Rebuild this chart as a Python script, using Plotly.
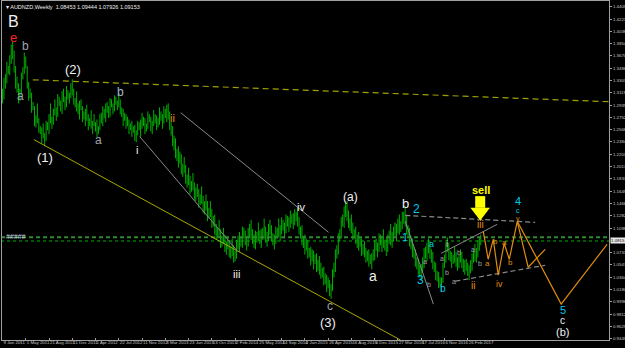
import plotly.graph_objects as go

# ---------------- DATA ----------------
# weekly bars (AUDNZD, weekly) starting 9 Jan 2011; one value per week
weekly_low = [
    1.296, 1.302, 1.318, 1.326, 1.340, 1.338, 1.355, 1.362, 1.342, 1.318,
    1.312, 1.296, 1.300, 1.310, 1.332, 1.340, 1.348, 1.318, 1.300, 1.304,
    1.282, 1.286, 1.262, 1.260, 1.266, 1.252, 1.250, 1.236, 1.244, 1.232,
    1.240, 1.256, 1.250, 1.266, 1.258, 1.264, 1.278, 1.270, 1.276, 1.292,
    1.284, 1.280, 1.298, 1.286, 1.290, 1.302, 1.296, 1.304, 1.308, 1.294,
    1.290, 1.284, 1.280, 1.272, 1.286, 1.268, 1.272, 1.262, 1.270, 1.256,
    1.262, 1.258, 1.250, 1.262, 1.254, 1.246, 1.250, 1.256, 1.266, 1.262,
    1.274, 1.268, 1.282, 1.274, 1.276, 1.290, 1.280, 1.284, 1.294, 1.286,
    1.290, 1.280, 1.276, 1.262, 1.270, 1.258, 1.262, 1.250, 1.256, 1.246,
    1.252, 1.240, 1.238, 1.248, 1.256, 1.246, 1.258, 1.262, 1.250, 1.254,
    1.258, 1.268, 1.254, 1.250, 1.262, 1.266, 1.256, 1.260, 1.264, 1.270,
    1.258, 1.266, 1.274, 1.268, 1.272, 1.256, 1.248, 1.232, 1.226, 1.214,
    1.210, 1.200, 1.206, 1.190, 1.186, 1.192, 1.176, 1.170, 1.174, 1.160,
    1.164, 1.166, 1.152, 1.150, 1.156, 1.140, 1.144, 1.146, 1.132, 1.130,
    1.136, 1.120, 1.124, 1.126, 1.110, 1.112, 1.100, 1.092, 1.094, 1.096,
    1.080, 1.082, 1.086, 1.074, 1.070, 1.078, 1.066, 1.064, 1.068, 1.058,
    1.060, 1.064, 1.078, 1.074, 1.082, 1.080, 1.094, 1.084, 1.076, 1.082,
    1.096, 1.092, 1.086, 1.080, 1.078, 1.088, 1.090, 1.086, 1.080, 1.092,
    1.094, 1.088, 1.082, 1.090, 1.100, 1.090, 1.084, 1.078, 1.086, 1.094,
    1.096, 1.090, 1.100, 1.106, 1.094, 1.102, 1.112, 1.104, 1.110, 1.116,
    1.108, 1.114, 1.120, 1.112, 1.100, 1.094, 1.084, 1.080, 1.070, 1.076,
    1.064, 1.066, 1.054, 1.060, 1.048, 1.056, 1.044, 1.046, 1.040, 1.034,
    1.036, 1.024, 1.026, 1.014, 1.020, 1.008, 1.004, 1.016, 1.036, 1.044,
    1.064, 1.070, 1.090, 1.094, 1.112, 1.110, 1.126, 1.120, 1.110, 1.106,
    1.102, 1.092, 1.094, 1.086, 1.080, 1.076, 1.082, 1.068, 1.070, 1.066,
    1.058, 1.060, 1.052, 1.056, 1.048, 1.060, 1.062, 1.076, 1.066, 1.074,
    1.084, 1.074, 1.080, 1.076, 1.068, 1.074, 1.086, 1.084, 1.080, 1.090,
    1.098, 1.090, 1.102, 1.100, 1.104, 1.108, 1.116, 1.112, 1.100, 1.096,
    1.082, 1.078, 1.066, 1.064, 1.052, 1.048, 1.040, 1.036, 1.032, 1.044,
    1.050, 1.064, 1.060, 1.072, 1.064, 1.058, 1.048, 1.044, 1.032, 1.030,
    1.020, 1.022, 1.014, 1.028, 1.050, 1.058, 1.074, 1.062, 1.060, 1.050,
    1.056, 1.058, 1.052, 1.046, 1.050, 1.058, 1.050, 1.044, 1.040, 1.046,
    1.038, 1.032, 1.042, 1.046, 1.058, 1.060, 1.058, 1.066, 1.076, 1.084,
]
weekly_high = [
    1.318, 1.334, 1.340, 1.358, 1.352, 1.368, 1.384, 1.388, 1.375, 1.352,
    1.336, 1.326, 1.318, 1.342, 1.350, 1.372, 1.366, 1.352, 1.328, 1.318,
    1.312, 1.298, 1.292, 1.278, 1.296, 1.274, 1.262, 1.260, 1.266, 1.252,
    1.270, 1.268, 1.280, 1.296, 1.276, 1.288, 1.302, 1.290, 1.310, 1.306,
    1.300, 1.314, 1.318, 1.306, 1.322, 1.316, 1.312, 1.326, 1.332, 1.318,
    1.304, 1.314, 1.296, 1.300, 1.302, 1.292, 1.284, 1.288, 1.294, 1.280,
    1.274, 1.286, 1.270, 1.280, 1.268, 1.272, 1.262, 1.280, 1.282, 1.292,
    1.288, 1.296, 1.298, 1.292, 1.304, 1.302, 1.296, 1.308, 1.306, 1.300,
    1.312, 1.302, 1.290, 1.288, 1.282, 1.280, 1.276, 1.272, 1.266, 1.270,
    1.262, 1.264, 1.256, 1.270, 1.268, 1.272, 1.282, 1.276, 1.274, 1.266,
    1.284, 1.280, 1.276, 1.270, 1.286, 1.280, 1.278, 1.274, 1.290, 1.284,
    1.280, 1.292, 1.288, 1.294, 1.296, 1.284, 1.268, 1.262, 1.248, 1.244,
    1.228, 1.232, 1.224, 1.220, 1.206, 1.216, 1.204, 1.190, 1.200, 1.188,
    1.180, 1.192, 1.178, 1.170, 1.176, 1.168, 1.160, 1.172, 1.158, 1.150,
    1.160, 1.150, 1.140, 1.150, 1.138, 1.128, 1.130, 1.116, 1.110, 1.122,
    1.108, 1.098, 1.110, 1.100, 1.090, 1.098, 1.092, 1.082, 1.094, 1.084,
    1.076, 1.092, 1.098, 1.104, 1.096, 1.112, 1.110, 1.106, 1.098, 1.110,
    1.116, 1.122, 1.108, 1.100, 1.106, 1.104, 1.118, 1.106, 1.108, 1.110,
    1.124, 1.112, 1.104, 1.116, 1.122, 1.114, 1.102, 1.100, 1.112, 1.110,
    1.124, 1.114, 1.126, 1.122, 1.118, 1.130, 1.128, 1.126, 1.136, 1.130,
    1.132, 1.138, 1.134, 1.140, 1.126, 1.112, 1.114, 1.098, 1.100, 1.094,
    1.092, 1.080, 1.082, 1.078, 1.076, 1.070, 1.072, 1.062, 1.068, 1.058,
    1.050, 1.052, 1.042, 1.040, 1.036, 1.032, 1.026, 1.048, 1.058, 1.078,
    1.084, 1.102, 1.108, 1.126, 1.130, 1.142, 1.146, 1.150, 1.136, 1.124,
    1.130, 1.118, 1.108, 1.112, 1.100, 1.104, 1.096, 1.094, 1.086, 1.090,
    1.080, 1.076, 1.078, 1.070, 1.072, 1.078, 1.092, 1.094, 1.088, 1.102,
    1.100, 1.098, 1.108, 1.092, 1.094, 1.100, 1.106, 1.116, 1.104, 1.112,
    1.118, 1.116, 1.124, 1.130, 1.120, 1.134, 1.134, 1.142, 1.128, 1.114,
    1.110, 1.098, 1.094, 1.082, 1.078, 1.066, 1.064, 1.054, 1.056, 1.066,
    1.080, 1.082, 1.088, 1.094, 1.090, 1.078, 1.074, 1.060, 1.058, 1.046,
    1.044, 1.036, 1.036, 1.058, 1.070, 1.088, 1.096, 1.088, 1.076, 1.074,
    1.070, 1.082, 1.074, 1.066, 1.070, 1.078, 1.074, 1.064, 1.062, 1.064,
    1.058, 1.054, 1.062, 1.072, 1.076, 1.086, 1.080, 1.092, 1.096, 1.100,
]
current_price = 1.0915
level_lines = [1.0959, 1.0904]

xtick_weeks = [0, 16, 32, 48, 64, 80, 96, 112, 128, 144, 160, 176, 192, 208,
               224, 240, 256, 272, 288, 304, 320]
xtick_labels = ["9 Jan 2011", "1 May 2011", "21 Aug 2011", "11 Dec 2011", "1 Apr 2012",
                "22 Jul 2012", "11 Nov 2012", "3 Mar 2013", "23 Jun 2013", "13 Oct 2013",
                "2 Feb 2014", "25 May 2014", "14 Sep 2014", "4 Jan 2015", "26 Apr 2015",
                "16 Aug 2015", "6 Dec 2015", "27 Mar 2016", "17 Jul 2016", "6 Nov 2016",
                "26 Feb 2017"]
# right-axis labels (the 1.0915 slot is shown by the current-price box)
ytick_labels = ["0.9445", "0.9629", "0.9812", "0.9996", "1.0180", "1.0364", "1.0547",
                "1.0731", "1.1098", "1.1282", "1.1466", "1.1649", "1.1833",
                "1.2017", "1.2201", "1.2384", "1.2568", "1.2752", "1.2935", "1.3119",
                "1.3303", "1.3486", "1.3670", "1.3854", "1.4038", "1.4221", "1.4405"]

title_text = "▾ AUDNZD,Weekly  1.08453 1.09444 1.07926 1.09153"

# wave labels: text, week position, price position
label_text = ["B", "e", "b", "a", "(1)", "(2)", "a", "b", "i", "ii", "iii", "iv", "c", "(3)",
              "(a)", "a", "b", "2", "1", "3", "a", "b", "i", "ii", "iii", "4", "c", "v",
              "5", "c", "(b)",
              "a", "b", "a", "b", "b", "a", "a", "b",
              "a", "b", "a", "b", "iv", "#####"]
label_week = [7.9, 7.9, 16.1, 12.7, 29.2, 48.4, 66.3, 81.4, 92.4, 117.1, 161.1, 205.0, 225.6, 224.2,
              239.4, 255.2, 277.1, 284.5, 277.1, 287.4, 294.8, 302.7, 305.8, 323.4, 328.6, 354.7, 354.7, 354.7,
              385.6, 385.0, 385.0,
              290.9, 293.6, 302.5, 314.2, 305.8, 310.8, 323.6, 328.6,
              333.7, 339.0, 345.1, 349.2, 341.7, 9.3]
label_price = [1.4177, 1.3939, 1.3820, 1.3075, 1.2151, 1.3462, 1.2419, 1.3134, 1.2270, 1.2747, 1.0408, 1.1406, 0.9931, 0.9693,
               1.1555, 1.0378, 1.1466, 1.1387, 1.0959, 1.0318, 1.0855, 1.0195, 1.0855, 1.0234, 1.1153, 1.1500, 1.1362, 1.1247,
               0.9880, 0.9712, 0.9540,
               1.0602, 1.0259, 1.0646, 1.0736, 1.0438, 1.0303, 1.0780, 1.0567,
               1.0567, 1.0904, 1.0880, 1.0582, 1.0259, 1.0974]

# trend lines: (week, price) end points
olive_dash_line = ([20.9, 417.2], [1.3313, 1.2985])
olive_line = ([21.6, 273.7], [1.2419, 0.9425])
gray_lines = [([94.4, 161.7], [1.2464, 1.0751]),
              ([122.6, 224.3], [1.2821, 1.1034]),
              ([277.1, 296.4], [1.1198, 0.9961]),
              ([301.9, 340.3], [1.0721, 1.1153])]
gray_dash_lines = [([277.1, 366.4], [1.1287, 1.1183]),
                   ([311.5, 373.3], [1.0304, 1.0542])]
orange_path_1 = ([330.7, 334.1, 337.6, 341.0, 345.1, 348.6, 354.1, 361.6, 373.3],
                 [1.1049, 1.0631, 1.0929, 1.0393, 1.0870, 1.0631, 1.1198, 1.0512, 1.0780])
orange_path_2 = ([354.1, 384.3, 415.9], [1.1198, 0.9961, 1.0855])
sell_arrow_shaft = ([328.6, 328.6], [1.1575, 1.1400])
sell_arrow_head = (328.6, 1.1339)
sell_text_pos = (329.1, 1.1664)

# ---------------- STYLES ----------------
WHITE = "#f0f0f0"
GRAY = "#a0a4ac"
CYAN = "#00c8e8"
ORANGE = "#e08c10"
YELLOW = "#ffff00"
label_color = [WHITE, "#ff2020", GRAY, GRAY, WHITE, WHITE, GRAY, "#a8b8d8", WHITE, ORANGE, WHITE, WHITE, GRAY, WHITE,
               WHITE, WHITE, WHITE, CYAN, CYAN, CYAN, CYAN, CYAN, "#c8c8c8", ORANGE, ORANGE, CYAN, CYAN, ORANGE,
               CYAN, WHITE, WHITE,
               GRAY, GRAY, GRAY, GRAY, GRAY, GRAY, GRAY, GRAY,
               ORANGE, ORANGE, ORANGE, ORANGE, ORANGE, "#c8d0e0"]
label_size = [16, 13, 12, 12, 13, 13, 12, 12, 11, 11, 11, 11, 12, 13,
              12, 14, 13, 12, 11, 12, 9, 10, 9, 10, 10, 11, 7, 7,
              11, 10, 11,
              7, 7, 7, 7, 7, 7, 7, 7,
              8, 8, 8, 8, 9, 7]

FONT = "Liberation Sans"
AXIS_FONT = dict(family=FONT, size=4.4, color="#c8c8c8")

fig = go.Figure()

# bars
bx, by = [], []
for i, (lo, hi) in enumerate(zip(weekly_low, weekly_high)):
    bx += [i, i, None]
    by += [lo, hi, None]
fig.add_trace(go.Scatter(x=bx, y=by, mode="lines", line=dict(color="#00b000", width=1),
                         hoverinfo="skip", showlegend=False))

# horizontal level lines
for lvl, col, w, d in zip(level_lines, ["#2e8b2e", "#00b000"], [2, 1], ["4px,3px", "3px,3px"]):
    fig.add_trace(go.Scatter(x=[-1, 420], y=[lvl, lvl], mode="lines",
                             line=dict(color=col, width=w, dash=d), showlegend=False))

fig.add_trace(go.Scatter(x=olive_dash_line[0], y=olive_dash_line[1], mode="lines",
                         line=dict(color="#a0a000", width=1.2, dash="6px,4px"), showlegend=False))
fig.add_trace(go.Scatter(x=olive_line[0], y=olive_line[1], mode="lines",
                         line=dict(color="#a8a800", width=1), showlegend=False))
for gx, gy in gray_lines:
    fig.add_trace(go.Scatter(x=gx, y=gy, mode="lines", line=dict(color="#8a8a8a", width=1),
                             showlegend=False))
for gx, gy in gray_dash_lines:
    fig.add_trace(go.Scatter(x=gx, y=gy, mode="lines",
                             line=dict(color="#8a8a8a", width=1.2, dash="5px,3px"), showlegend=False))
for ox, oy in [orange_path_1, orange_path_2]:
    fig.add_trace(go.Scatter(x=ox, y=oy, mode="lines", line=dict(color=ORANGE, width=1.2),
                             showlegend=False))

# sell arrow (shaft + head)
fig.add_trace(go.Scatter(x=sell_arrow_shaft[0], y=sell_arrow_shaft[1], mode="lines",
                         line=dict(color=YELLOW, width=10), showlegend=False))
fig.add_trace(go.Scatter(x=[sell_arrow_head[0]], y=[sell_arrow_head[1]], mode="markers",
                         marker=dict(symbol="triangle-down", size=17, color=YELLOW,
                                     line=dict(width=0)), showlegend=False))

for t, wk, pr, c, s in zip(label_text, label_week, label_price, label_color, label_size):
    fig.add_annotation(x=wk, y=pr, text=t, showarrow=False,
                       font=dict(family=FONT, size=s, color=c))

fig.add_annotation(x=sell_text_pos[0], y=sell_text_pos[1], text="<b>sell</b>", showarrow=False,
                   font=dict(family=FONT, size=11, color=YELLOW))

# title
fig.add_annotation(xref="paper", yref="paper", x=0.004, y=0.998, xanchor="left", yanchor="top",
                   text=title_text, showarrow=False, font=dict(family=FONT, size=5.5, color=WHITE))

# current price box
fig.add_annotation(xref="paper", yref="y", x=1.0, y=current_price, xanchor="left", xshift=1,
                   text=f"{current_price:.4f}", showarrow=False, bgcolor="#e8e8e8",
                   borderpad=0, font=dict(family=FONT, size=4.4, color="#000000"))

fig.update_layout(
    width=625, height=348,
    margin=dict(l=2, r=16, t=1, b=8, autoexpand=False),
    paper_bgcolor="#000000", plot_bgcolor="#000000",
    showlegend=False,
    xaxis=dict(range=[-0.34, 417.2], tickvals=xtick_weeks, ticktext=xtick_labels,
               tickfont=AXIS_FONT, tickangle=0, ticklabelstandoff=-2,
               ticks="inside", ticklen=2, tickcolor="#a0a0a0",
               ticklabelposition="outside right", automargin=False,
               showgrid=False, zeroline=False, showline=True, linecolor="#a0a0a0",
               linewidth=1, mirror=True, fixedrange=True),
    yaxis=dict(range=[0.9425, 1.4490], side="right",
               tickvals=[float(v) for v in ytick_labels], ticktext=ytick_labels,
               tickfont=AXIS_FONT,
               ticks="outside", ticklen=2, tickcolor="#a0a0a0", automargin=False,
               showgrid=False, zeroline=False, showline=True, linecolor="#a0a0a0",
               linewidth=1, mirror=True, fixedrange=True),
)

fig.write_html("out.html")
